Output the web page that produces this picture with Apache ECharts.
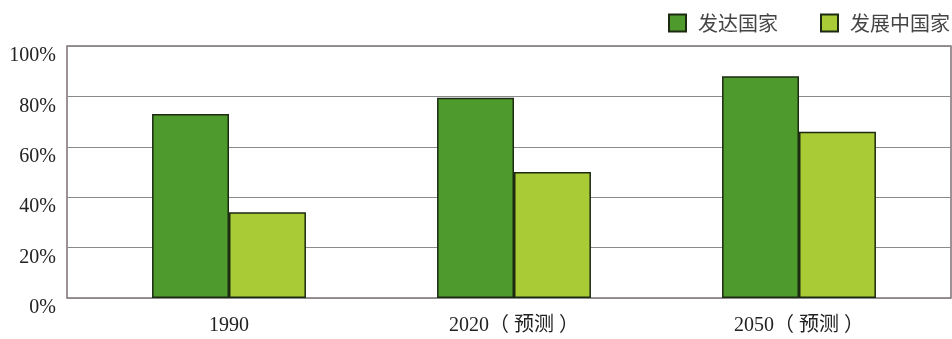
<!DOCTYPE html>
<html lang="zh">
<head>
    <meta charset="utf-8">
    <title>城市化水平</title>
    <script src="https://cdn.jsdelivr.net/npm/echarts@6/dist/echarts.min.js"></script>
    <style>
        html, body { margin: 0; padding: 0; background: #fff; }
        #main { width: 952px; height: 339px; }
    </style>
</head>
<body>
<div id="main"></div>
<script type="text/javascript">
    // 数据
    var categories = ['1990', '2020（ 预测 ）', '2050（ 预测 ）'];
    var developed = [73, 79.5, 88];      // 发达国家
    var developing = [34, 50, 66];       // 发展中国家
    var yTicks = [0, 20, 40, 60, 80, 100];

    var darkGreen = '#4f9a2c';
    var lightGreen = '#a9cb35';
    var serif = '"Liberation Serif", "Noto Sans CJK SC", serif';

    var chart = echarts.init(document.getElementById('main'), null, { renderer: 'canvas' });

    var option = {
        animation: false,
        legend: {
            top: 13,
            right: 2,
            padding: 0,
            itemWidth: 17,
            itemHeight: 17,
            itemGap: 42,
            icon: 'rect',
            textStyle: { fontFamily: '"Noto Sans CJK SC", sans-serif', fontSize: 20, color: '#444', padding: [0, 0, 0, 7] },
            data: [
                { name: '发达国家', itemStyle: { borderColor: '#1c2a12', borderWidth: 2 } },
                { name: '发展中国家', itemStyle: { borderColor: '#1c2a12', borderWidth: 2 } }
            ]
        },
        grid: [
            // 外框 + 网格线
            { left: 67, right: 1, top: 46, bottom: 41, show: true, borderColor: '#7d6f70', borderWidth: 1.5, containLabel: false },
            // 柱子
            { left: 86.5, right: 10.5, top: 46, bottom: 41, containLabel: false }
        ],
        xAxis: [
            { gridIndex: 0, type: 'value', show: false, min: 0, max: 1 },
            {
                gridIndex: 1,
                type: 'category',
                data: categories,
                axisLine: { show: false },
                axisTick: { show: false },
                axisLabel: { fontFamily: serif, fontSize: 20, color: '#222', margin: 18 }
            }
        ],
        yAxis: [
            {
                gridIndex: 0,
                type: 'value',
                min: 0,
                max: 100,
                interval: 20,
                axisLine: { show: false },
                axisTick: { show: false },
                splitLine: { lineStyle: { color: '#8a8a8a', width: 1 } },
                axisLabel: {
                    fontFamily: serif,
                    fontSize: 20,
                    color: '#222',
                    margin: 11,
                    verticalAlign: 'top',
                    formatter: function (v) { return yTicks.indexOf(v) >= 0 ? v + '%' : ''; }
                }
            },
            { gridIndex: 1, type: 'value', min: 0, max: 100, show: false }
        ],
        series: [
            {
                name: '发达国家',
                type: 'bar',
                xAxisIndex: 1,
                yAxisIndex: 1,
                data: developed,
                barGap: '0%',
                barCategoryGap: '46%',
                itemStyle: { color: darkGreen, borderColor: '#1c2a12', borderWidth: 1.5 }
            },
            {
                name: '发展中国家',
                type: 'bar',
                xAxisIndex: 1,
                yAxisIndex: 1,
                data: developing,
                barGap: '0%',
                barCategoryGap: '46%',
                itemStyle: { color: lightGreen, borderColor: '#1c2a12', borderWidth: 1.5 }
            }
        ]
    };
    chart.setOption(option);
</script>
</body>
</html>
